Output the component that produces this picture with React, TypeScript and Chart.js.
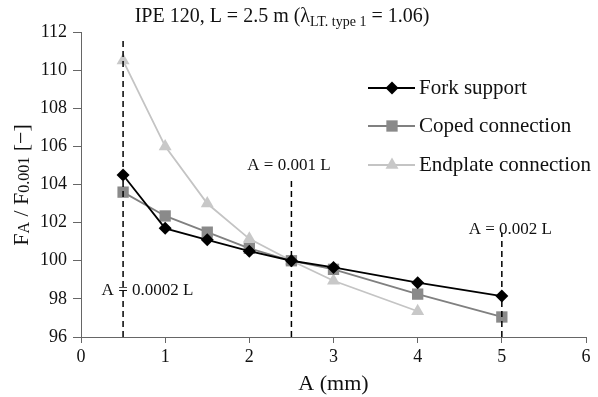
import React, { useEffect, useRef } from "react";
import { Chart, registerables } from "chart.js";

Chart.register(...registerables);

const xValues = [0.5, 1, 1.5, 2, 2.5, 3, 4, 5];
const forkSupport = [104.5, 101.7, 101.1, 100.5, 100.0, 99.65, 98.85, 98.15];
const copedConnection = [103.6, 102.35, 101.5, 100.65, 100.0, 99.55, 98.25, 97.05];
const endplateX = [0.5, 1, 1.5, 2, 2.5, 3, 4];
const endplateConnection = [110.5, 106.0, 103.0, 101.15, 100.0, 98.95, 97.35];

const markerX = [0.5, 2.5, 5];
const markerTop = [111.7, 104.3, 101.5];
const markerLabels = ["A = 0.0002 L", "A = 0.001 L", "A = 0.002 L"];
const markerLabelX = [0.79, 2.47, 5.1];
const markerLabelY = [98.46, 105.0, 101.66];

const xTicks = [0, 1, 2, 3, 4, 5, 6];
const yMin = 96;
const yMax = 112;

const FONT = "'Liberation Serif', 'DejaVu Serif', serif";

type Seg = { t: string; sub?: boolean };

function drawSegs(ctx: CanvasRenderingContext2D, segs: Seg[], cx: number, y: number, size: number, subSize: number, subShift: number) {
  const widths = segs.map((s) => {
    ctx.font = `${s.sub ? subSize : size}px ${FONT}`;
    return ctx.measureText(s.t).width;
  });
  const total = widths.reduce((a, b) => a + b, 0);
  let x = cx - total / 2;
  ctx.textAlign = "left";
  ctx.textBaseline = "alphabetic";
  segs.forEach((s, i) => {
    ctx.font = `${s.sub ? subSize : size}px ${FONT}`;
    ctx.fillText(s.t, x, s.sub ? y + subShift : y);
    x += widths[i];
  });
}

function markerPath(ctx: CanvasRenderingContext2D, style: string, r: number, x: number, y: number) {
  ctx.beginPath();
  if (style === "rectRot") {
    ctx.moveTo(x, y - r);
    ctx.lineTo(x + r, y);
    ctx.lineTo(x, y + r);
    ctx.lineTo(x - r, y);
  } else if (style === "rect") {
    const s = Math.SQRT1_2 * r;
    ctx.rect(x - s, y - s, 2 * s, 2 * s);
  } else {
    ctx.moveTo(x, y - r);
    ctx.lineTo(x + r * Math.sin(Math.PI / 3), y + r * 0.5);
    ctx.lineTo(x - r * Math.sin(Math.PI / 3), y + r * 0.5);
  }
  ctx.closePath();
}

const textPlugin = {
  id: "customText",
  afterDraw(chart: any) {
    const ctx: CanvasRenderingContext2D = chart.ctx;
    const xs = chart.scales.x;
    const ys = chart.scales.y;
    ctx.save();
    ctx.fillStyle = "#111";
    drawSegs(
      ctx,
      [{ t: "IPE 120, L = 2.5 m (λ" }, { t: "LT. type 1", sub: true }, { t: " = 1.06)" }],
      282,
      22,
      20,
      14,
      4
    );
    ctx.save();
    ctx.translate(28, 185);
    ctx.rotate(-Math.PI / 2);
    drawSegs(
      ctx,
      [{ t: "F" }, { t: "A", sub: true }, { t: " / F" }, { t: "0.001", sub: true }, { t: " [−]" }],
      0,
      0,
      22,
      16,
      1
    );
    ctx.restore();
    ctx.font = `17px ${FONT}`;
    ctx.textAlign = "center";
    ctx.textBaseline = "middle";
    markerLabels.forEach((lab, i) => {
      ctx.fillText(lab, xs.getPixelForValue(markerLabelX[i]), ys.getPixelForValue(markerLabelY[i]));
    });
    const rows = [88, 126, 165];
    [0, 1, 2].forEach((i) => {
      const ds = chart.data.datasets[i];
      const y = rows[i];
      ctx.strokeStyle = ds.borderColor;
      ctx.lineWidth = ds.borderWidth;
      ctx.setLineDash([]);
      ctx.beginPath();
      ctx.moveTo(368, y);
      ctx.lineTo(415, y);
      ctx.stroke();
      markerPath(ctx, ds.pointStyle, ds.pointRadius, 392, y);
      ctx.fillStyle = ds.pointBackgroundColor;
      ctx.fill();
      ctx.fillStyle = "#111";
      ctx.font = `21px ${FONT}`;
      ctx.textAlign = "left";
      ctx.textBaseline = "middle";
      ctx.fillText(ds.label, 419, y);
    });
    ctx.restore();
  },
};

export default function App() {
  const ref = useRef<HTMLCanvasElement>(null);
  useEffect(() => {
    document.body.style.margin = "0";
    const dashed = markerX.map((x, i) => ({
      type: "line" as const,
      label: "",
      data: [
        { x, y: yMin },
        { x, y: markerTop[i] },
      ],
      borderColor: "#000",
      borderWidth: 1.5,
      borderDash: [6, 4],
      pointRadius: 0,
      showLine: true,
      fill: false,
      order: 0,
    }));
    const chart = new Chart(ref.current!, {
      type: "scatter",
      data: {
        datasets: [
          {
            label: "Fork support",
            data: xValues.map((x, i) => ({ x, y: forkSupport[i] })),
            showLine: true,
            borderColor: "#000000",
            backgroundColor: "#000000",
            pointBackgroundColor: "#000000",
            pointBorderColor: "#000000",
            borderWidth: 1.8,
            pointStyle: "rectRot",
            pointRadius: 6.5,
            pointBorderWidth: 0,
            order: 1,
          },
          {
            label: "Coped connection",
            data: xValues.map((x, i) => ({ x, y: copedConnection[i] })),
            showLine: true,
            borderColor: "#808080",
            backgroundColor: "#8a8a8a",
            pointBackgroundColor: "#8a8a8a",
            pointBorderColor: "#8a8a8a",
            borderWidth: 1.8,
            pointStyle: "rect",
            pointRadius: 8,
            pointBorderWidth: 0,
            order: 2,
          },
          {
            label: "Endplate connection",
            data: endplateX.map((x, i) => ({ x, y: endplateConnection[i] })),
            showLine: true,
            borderColor: "#c4c4c4",
            backgroundColor: "#c8c8c8",
            pointBackgroundColor: "#c8c8c8",
            pointBorderColor: "#c8c8c8",
            borderWidth: 1.8,
            pointStyle: "triangle",
            pointRadius: 7.5,
            pointBorderWidth: 0,
            order: 3,
          },
          ...dashed,
        ] as any,
      },
      options: {
        animation: false,
        responsive: false,
        layout: { padding: { left: 34, right: 12, top: 32, bottom: 0 } },
        plugins: { legend: { display: false }, tooltip: { enabled: false }, title: { display: false } },
        scales: {
          x: {
            type: "linear",
            min: 0,
            max: 6,
            afterBuildTicks: (s: any) => {
              s.ticks = xTicks.map((v) => ({ value: v }));
            },
            ticks: { color: "#111", font: { family: FONT, size: 18 }, padding: 3 },
            grid: { drawOnChartArea: false, tickLength: 6, color: "#666", lineWidth: 1 },
            border: { color: "#666", width: 1 },
            title: { display: true, text: "A (mm)", color: "#111", font: { family: FONT, size: 22 }, padding: { top: 0, bottom: 0 } },
          },
          y: {
            type: "linear",
            min: yMin,
            max: yMax,
            ticks: { stepSize: 2, color: "#111", font: { family: FONT, size: 18 }, padding: 6 },
            grid: { drawOnChartArea: false, tickLength: 8, color: "#666", lineWidth: 1 },
            border: { color: "#666", width: 1 },
          },
        },
      },
      plugins: [textPlugin],
    });
    return () => chart.destroy();
  }, []);
  return <canvas ref={ref} width={598} height={397} style={{ display: "block" }} />;
}
